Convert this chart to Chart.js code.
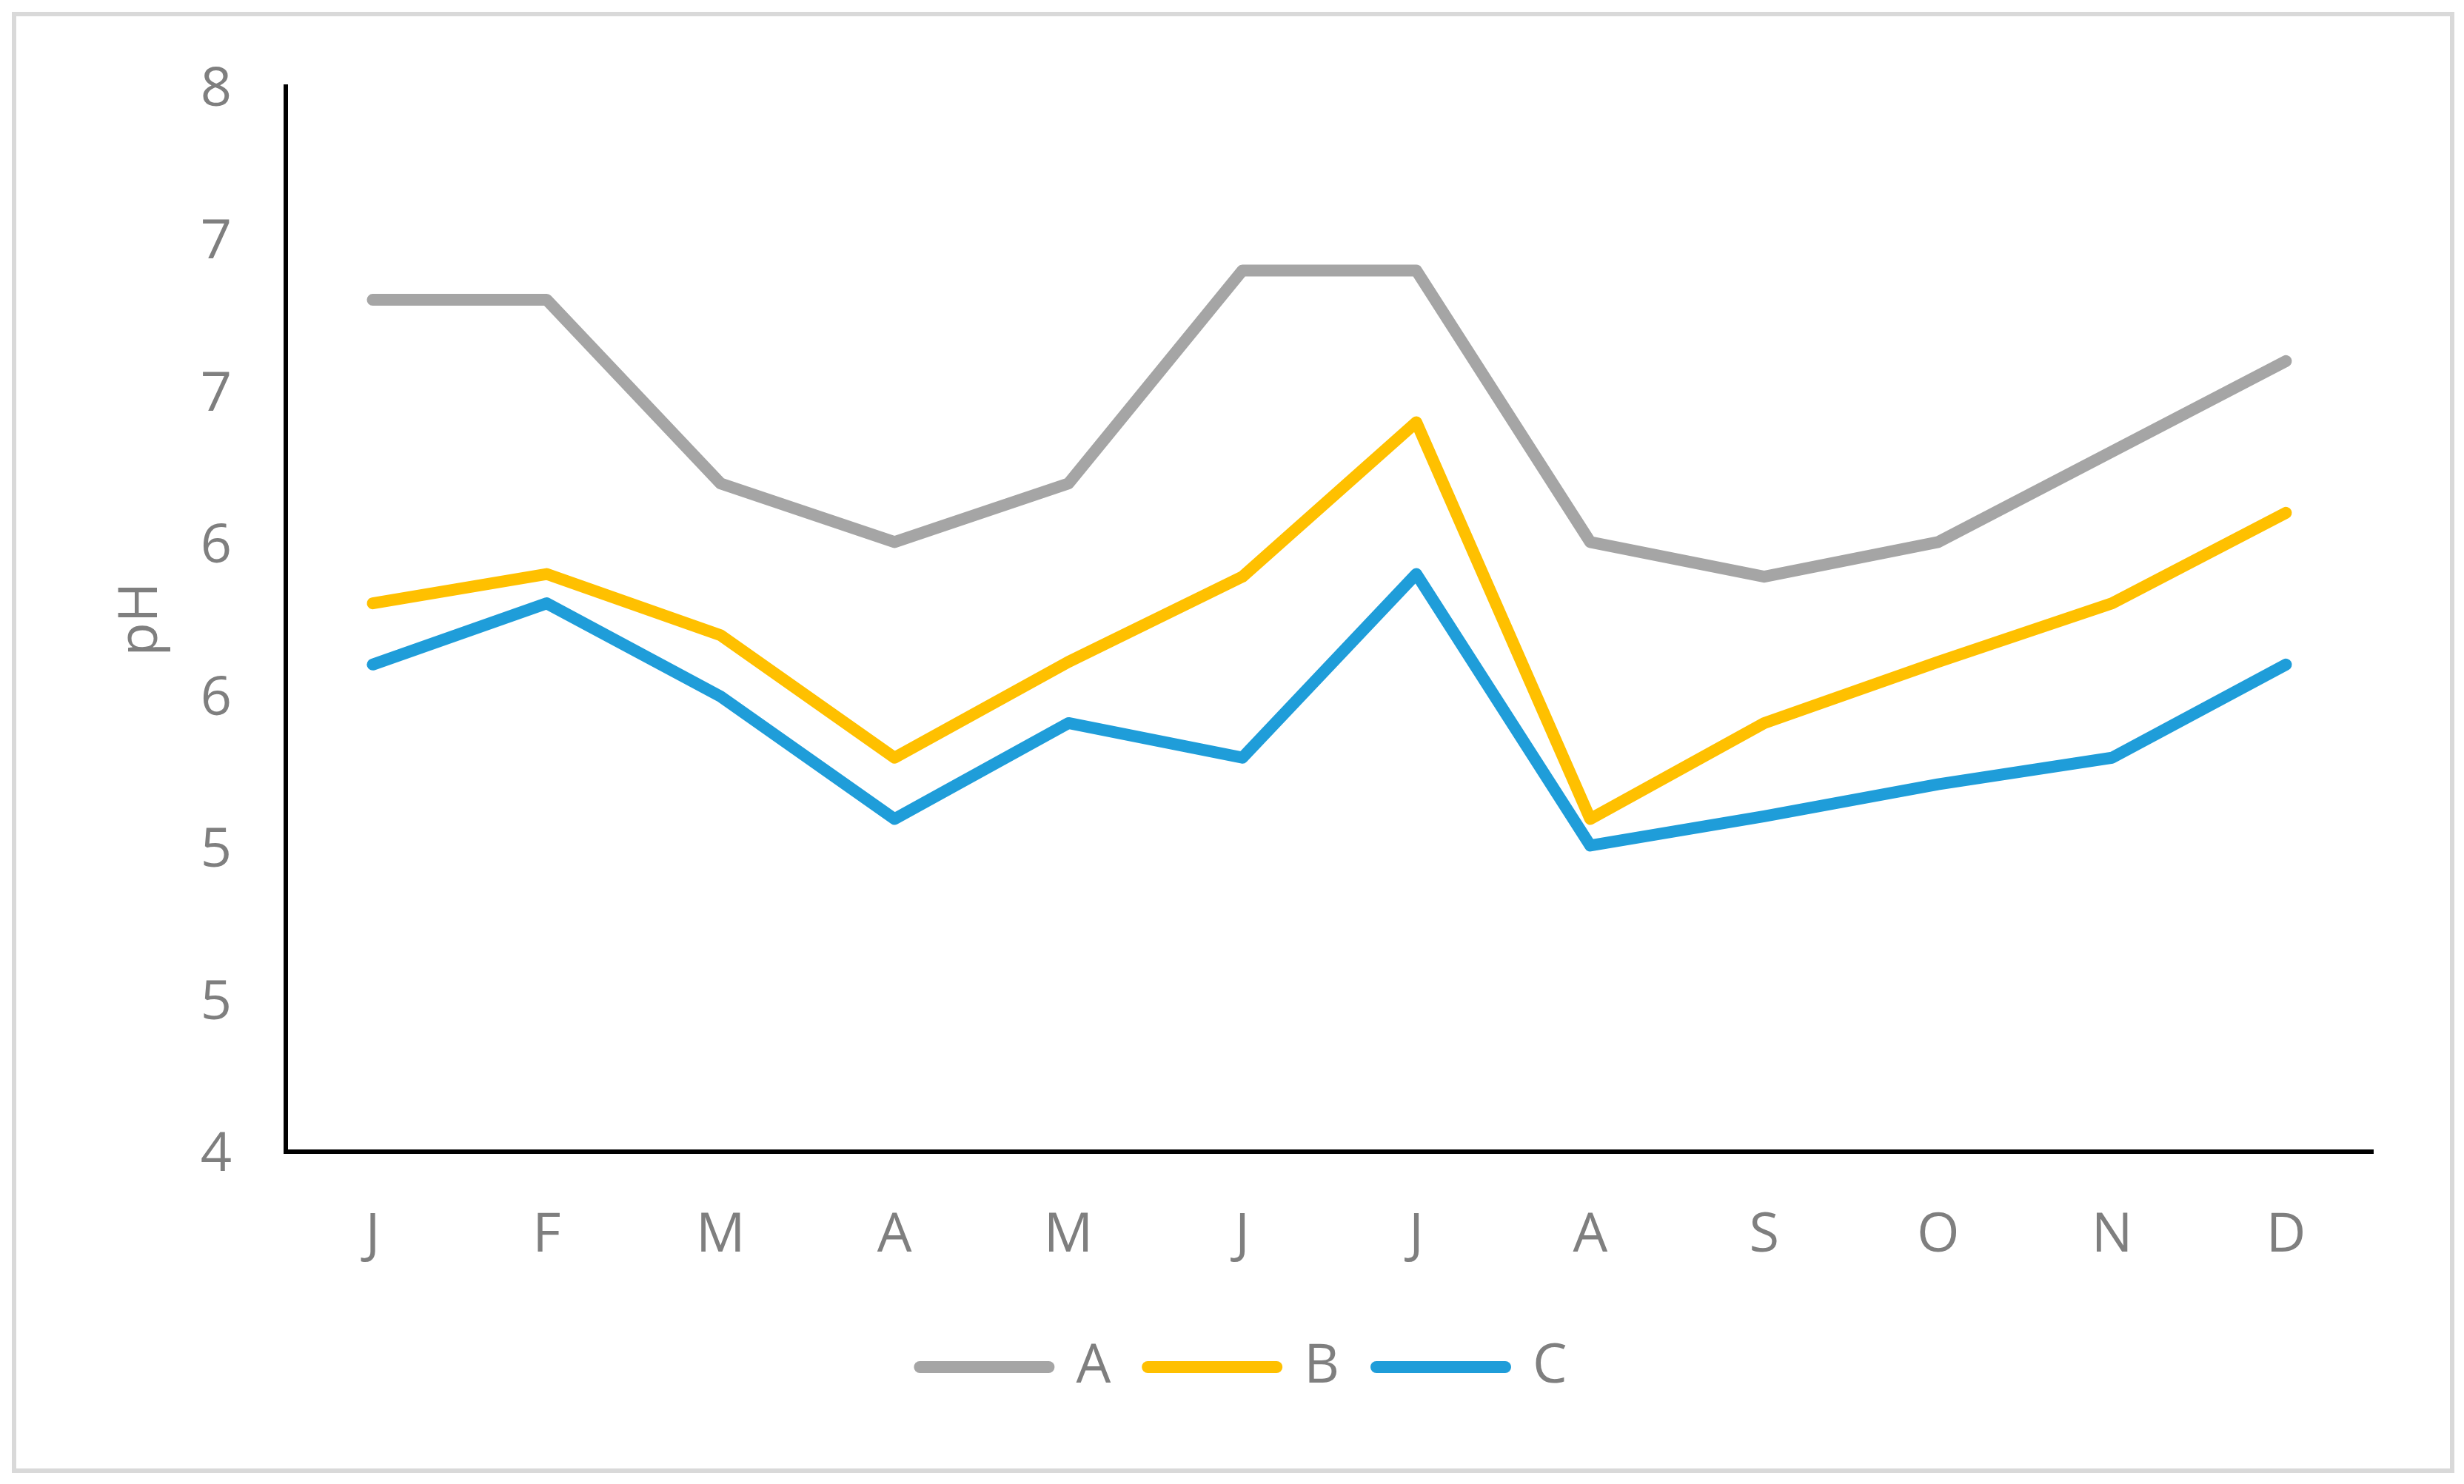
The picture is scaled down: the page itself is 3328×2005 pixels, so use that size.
<!DOCTYPE html>
<html>
<head>
<meta charset="utf-8">
<script src="https://cdn.jsdelivr.net/npm/chart.js@4/dist/chart.umd.min.js"></script>
<style>
  html, body { margin: 0; padding: 0; background: #ffffff; }
  #c { display: block; }
</style>
</head>
<body>
<canvas id="c" width="3328" height="2005"></canvas>
<script>
// ---- data ----
const months = ['J', 'F', 'M', 'A', 'M', 'J', 'J', 'A', 'S', 'O', 'N', 'D'];
const seriesNames = ['A', 'B', 'C'];
const seriesA = [7.20, 7.20, 6.51, 6.29, 6.51, 7.31, 7.31, 6.29, 6.16, 6.29, 6.63, 6.97];
const seriesB = [6.06, 6.17, 5.94, 5.48, 5.84, 6.16, 6.74, 5.25, 5.61, 5.84, 6.06, 6.40];
const seriesC = [5.83, 6.06, 5.71, 5.25, 5.61, 5.48, 6.17, 5.15, 5.26, 5.38, 5.48, 5.83];
const yTickLabels = ['4', '5', '5', '6', '6', '7', '7', '8'];
const yMin = 4;
const yMax = 8;
const yTitle = 'pH';

// ---- styles ----
const colors = ['#A5A5A5', '#FFC000', '#1F9DD9'];
const textColor = '#7F7F7F';
const fontFamily = "'Open Sans', 'Noto Sans', 'DejaVu Sans', sans-serif";
const fontSize = 74;
const legendShift = 77;

const frame = {
  id: 'frame',
  beforeDraw(chart) {
    const ctx = chart.ctx;
    ctx.save();
    ctx.fillStyle = '#ffffff';
    ctx.fillRect(0, 0, chart.width, chart.height);
    ctx.strokeStyle = '#D9D9D9';
    ctx.lineWidth = 6;
    ctx.strokeRect(19, 19, 3293, 1968);
    ctx.restore();
  },
  afterLayout(chart) {
    if (chart.legend) {
      chart.legend.left += legendShift;
      chart.legend.right += legendShift;
    }
  }
};

const seriesData = [seriesA, seriesB, seriesC];

new Chart(document.getElementById('c'), {
  type: 'line',
  data: {
    labels: months,
    datasets: seriesData.map((d, i) => ({
      label: seriesNames[i],
      data: d,
      borderColor: colors[i],
      backgroundColor: colors[i],
      borderWidth: 16,
      borderCapStyle: 'round',
      borderJoinStyle: 'round',
      pointRadius: 0,
      pointHoverRadius: 0,
      pointStyle: 'line',
      tension: 0,
      fill: false
    }))
  },
  options: {
    responsive: false,
    devicePixelRatio: 1,
    animation: false,
    layout: { padding: { left: 0, right: 123, top: 117, bottom: 111 } },
    plugins: {
      tooltip: { enabled: false },
      legend: {
        position: 'bottom',
        labels: {
          usePointStyle: true,
          pointStyleWidth: 174,
          padding: 50,
          color: textColor,
          font: { family: fontFamily, size: fontSize },
          generateLabels(chart) {
            const items = Chart.defaults.plugins.legend.labels.generateLabels(chart);
            items.forEach((it, i) => {
              it.lineCap = 'round';
              it.lineWidth = 16;
              it.strokeStyle = colors[i];
              it.fillStyle = colors[i];
              it.fontColor = textColor;
            });
            return items;
          }
        }
      }
    },
    scales: {
      x: {
        offset: true,
        grid: { display: false, drawTicks: false },
        border: { display: true, color: '#000000', width: 6 },
        ticks: {
          color: textColor,
          padding: 70,
          maxRotation: 0,
          autoSkip: false,
          font: { family: fontFamily, size: fontSize }
        },
        afterFit(scale) { scale.height = 204; }
      },
      y: {
        min: yMin,
        max: yMax,
        grid: { display: false, drawTicks: false },
        border: { display: true, color: '#000000', width: 6 },
        afterBuildTicks(scale) {
          const n = yTickLabels.length;
          scale.ticks = yTickLabels.map((_, i) => ({ value: yMin + i * (yMax - yMin) / (n - 1) }));
        },
        ticks: {
          color: textColor,
          padding: 73,
          labelOffset: 5,
          font: { family: fontFamily, size: fontSize },
          callback: (value, index) => yTickLabels[index]
        },
        title: {
          display: true,
          text: yTitle,
          color: textColor,
          padding: { top: 147, bottom: 0 },
          font: { family: fontFamily, size: fontSize }
        },
        afterFit(scale) { scale.width = 386; }
      }
    }
  },
  plugins: [frame]
});
</script>
</body>
</html>
